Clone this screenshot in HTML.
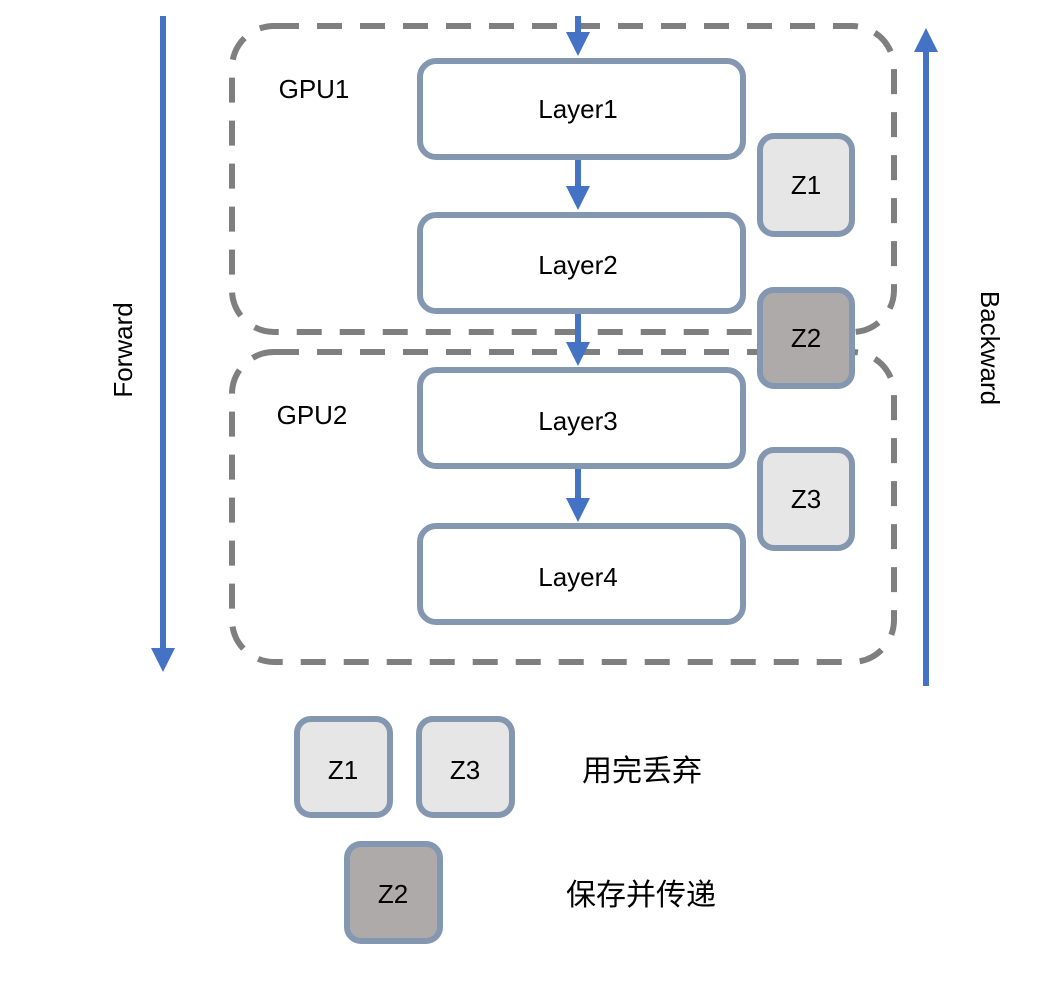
<!DOCTYPE html>
<html><head><meta charset="utf-8"><style>
body{margin:0;background:#fff}
svg text{font-family:"Liberation Sans","Noto Sans CJK SC",sans-serif;fill:#000}
</style></head><body>
<svg width="1058" height="980" viewBox="0 0 1058 980" xmlns="http://www.w3.org/2000/svg">
<defs>
<marker id="ah" markerWidth="4" markerHeight="4" refX="2" refY="2" orient="auto" markerUnits="strokeWidth">
<path d="M0,0 L4,2 L0,4 z" fill="#4472c4"/></marker>
</defs>
<g fill="none" stroke="#7f7f7f" stroke-width="6" stroke-dasharray="25,18">
<rect x="232" y="26" width="662" height="306" rx="42"/>
<rect x="232" y="352" width="662" height="310" rx="42"/>
</g>
<g stroke="#4472c4" stroke-width="6" fill="none">
<line x1="163" y1="16" x2="163" y2="660" marker-end="url(#ah)"/>
<line x1="926" y1="686" x2="926" y2="40" marker-end="url(#ah)"/>
<line x1="578" y1="16" x2="578" y2="44" marker-end="url(#ah)"/>
<line x1="578" y1="158" x2="578" y2="198" marker-end="url(#ah)"/>
<line x1="578" y1="312" x2="578" y2="354" marker-end="url(#ah)"/>
<line x1="578" y1="468" x2="578" y2="510" marker-end="url(#ah)"/>
</g>
<g fill="#fff" stroke="#8497b0" stroke-width="6">
<rect x="420" y="61" width="323" height="96" rx="16"/>
<rect x="420" y="215" width="323" height="96" rx="16"/>
<rect x="420" y="370" width="323" height="96" rx="16"/>
<rect x="420" y="526" width="323" height="96" rx="16"/>
</g>
<g stroke="#8497b0" stroke-width="6">
<rect x="760" y="136" width="92" height="98" rx="14" fill="#e7e6e6"/>
<rect x="760" y="290" width="92" height="96" rx="14" fill="#aeaaaa"/>
<rect x="760" y="450" width="92" height="98" rx="14" fill="#e7e6e6"/>
<rect x="297" y="719" width="93" height="96" rx="14" fill="#e7e6e6"/>
<rect x="419" y="719" width="93" height="96" rx="14" fill="#e7e6e6"/>
<rect x="347" y="844" width="93" height="97" rx="14" fill="#aeaaaa"/>
</g>
<g font-size="26" text-anchor="middle">
<text x="578" y="118">Layer1</text>
<text x="578" y="274">Layer2</text>
<text x="578" y="430">Layer3</text>
<text x="578" y="586">Layer4</text>
<text x="806" y="194">Z1</text>
<text x="806" y="347">Z2</text>
<text x="806" y="508">Z3</text>
<text x="343" y="779">Z1</text>
<text x="465" y="779">Z3</text>
<text x="393" y="903">Z2</text>
<text x="314" y="98">GPU1</text>
<text x="312" y="424">GPU2</text>
<text transform="translate(132,350) rotate(-90)">Forward</text>
<text transform="translate(981,348) rotate(90)">Backward</text>
<text x="642" y="781" font-size="30">用完丢弃</text>
<text x="641" y="905" font-size="30">保存并传递</text>
</g>
</svg>
</body></html>
